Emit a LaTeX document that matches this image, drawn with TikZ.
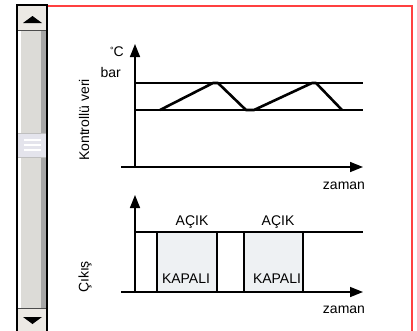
\documentclass[tikz,border=0pt]{standalone}
\usepackage{fontspec}
\setmainfont{Liberation Sans}
\usetikzlibrary{arrows.meta}
\definecolor{framered}{HTML}{FF4040}
\definecolor{btnfill}{HTML}{ECE9E4}
\definecolor{trackfill}{HTML}{DCDBD7}
\definecolor{trackdark}{HTML}{A6A6A6}
\definecolor{thumbfill}{HTML}{E4E4EC}
\definecolor{boxfill}{HTML}{EEF1F3}
\begin{document}
\begin{tikzpicture}[x=1pt,y=-1pt,
  lbl/.style={font=\fontsize{14}{16}\selectfont, inner sep=0pt},
  axis/.style={line width=1.5pt,-{Triangle[length=13pt,width=10pt]}},
  level/.style={line width=1.2pt},
  zig/.style={line width=2.6pt,line join=round},
  pulse/.style={fill=boxfill,draw=black,line width=2.2pt},
  sbout/.style={draw=black,line width=1.6pt}]
\useasboundingbox (0,0) rectangle (417,330);
% red frame
\draw[framered,line width=2pt] (48,6) -- (412,6) -- (412,331);
% scrollbar
\fill[trackfill] (17,30) rectangle (47,308);
\fill[white] (18,30) rectangle (21,308);
\fill[trackdark] (41,30) rectangle (46,308);
\fill[btnfill] (17,5) rectangle (47,30);
\fill[btnfill] (17,308) rectangle (47,331);
\draw[black!70,line width=0.6pt] (17,30) -- (47,30);
\draw[black!70,line width=0.6pt] (17,308) -- (47,308);
\fill[black] (23,23) -- (32.5,16) -- (42,23) -- cycle;
\fill[black] (23,317) -- (32.5,324) -- (42,317) -- cycle;
\draw[fill=thumbfill,draw=black!25,line width=0.6pt] (17,133) rectangle (47,157);
\foreach \yy in {140,145,150} \draw[white,line width=1.2pt] (24,\yy) -- (41,\yy);
\draw[sbout] (17,332) -- (17,5) -- (47,5) -- (47,332);
% upper chart
\coordinate (o1) at (135,167);
\coordinate (y1) at (135,44);
\coordinate (x1s) at (121,167);
\coordinate (x1e) at (363,167);
\coordinate (h1s) at (135,83);
\coordinate (h1e) at (363,83);
\coordinate (l1s) at (135,110);
\coordinate (l1e) at (363,110);
\draw[level] (h1s) -- (h1e);
\draw[level] (l1s) -- (l1e);
\draw[zig] (160,110) -- (213,83) -- (218,83) -- (246,110) -- (254,110) -- (312,83) -- (316,83) -- (342,110);
\draw[axis] (o1) -- (y1);
\draw[axis] (x1s) -- (x1e);
\node[lbl,anchor=east] (degc) at (124,52) {\raisebox{3pt}{\fontsize{9}{9}\selectfont°}C};
\node[lbl,anchor=east] (bar) at (121,72) {bar};
\node[lbl] (zaman1) at (344,186) {zaman};
\node[lbl,rotate=90] (kv) at (84,120) {Kontrollü veri};
% lower chart
\draw[pulse] (157,232) rectangle (217,292);
\draw[pulse] (244,232) rectangle (303,292);
\coordinate (o2) at (135,292);
\coordinate (y2) at (135,195);
\coordinate (x2s) at (121,292);
\coordinate (x2e) at (363,292);
\coordinate (h2s) at (135,232);
\coordinate (h2e) at (363,232);
\draw[level] (h2s) -- (h2e);
\draw[axis] (o2) -- (y2);
\draw[axis] (x2s) -- (x2e);
\node[lbl] (acik1) at (192,222) {AÇIK};
\node[lbl] (acik2) at (278,222) {AÇIK};
\node[lbl] (kap1) at (186,279) {KAPALI};
\node[lbl] (kap2) at (277,279) {KAPALI};
\node[lbl] (zaman2) at (344,310) {zaman};
\node[lbl,rotate=90] (cikis) at (85,277) {Çıkış};
\end{tikzpicture}
\end{document}
